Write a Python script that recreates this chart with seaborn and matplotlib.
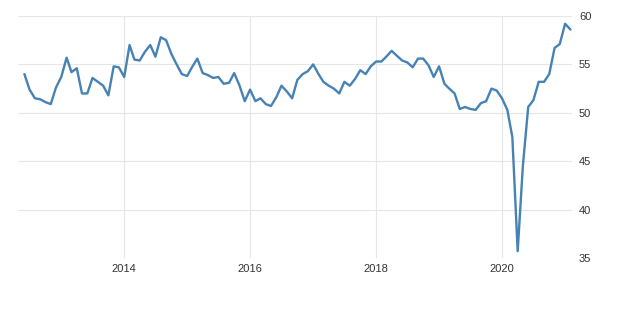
import pandas as pd
import numpy as np
import matplotlib
matplotlib.use("Agg")
import matplotlib.pyplot as plt
import matplotlib.dates as mdates
import seaborn as sns

start_month = "2012-06-01"
values = [
    # 2012 Jun-Dec
    54.0, 52.4, 51.5, 51.4, 51.1, 50.9, 52.6,
    # 2013
    53.7, 55.7, 54.2, 54.6, 52.0, 52.0, 53.6, 53.2, 52.8, 51.8, 54.8, 54.7,
    # 2014
    53.7, 57.0, 55.5, 55.4, 56.3, 57.0, 55.8, 57.8, 57.5, 56.1, 55.0, 54.0,
    # 2015
    53.8, 54.8, 55.6, 54.1, 53.9, 53.6, 53.7, 53.0, 53.1, 54.1, 52.8, 51.2,
    # 2016
    52.4, 51.2, 51.5, 50.9, 50.7, 51.6, 52.8, 52.2, 51.5, 53.4, 54.0, 54.3,
    # 2017
    55.0, 54.0, 53.2, 52.8, 52.5, 52.0, 53.2, 52.8, 53.5, 54.4, 54.0, 54.8,
    # 2018
    55.3, 55.3, 55.8, 56.4, 55.9, 55.4, 55.2, 54.7, 55.6, 55.6, 54.9, 53.7,
    # 2019
    54.8, 53.0, 52.5, 52.0, 50.4, 50.6, 50.4, 50.3, 51.0, 51.2, 52.5, 52.3,
    # 2020
    51.5, 50.3, 47.5, 35.7, 44.5, 50.6, 51.3, 53.2, 53.2, 54.0, 56.7, 57.1,
    # 2021 Jan-Feb
    59.2, 58.6,
]
year_ticks = ["2014", "2016", "2018", "2020"]
y_ticks = [35, 40, 45, 50, 55, 60]

dates = pd.date_range(start_month, periods=len(values), freq="MS")
df = pd.DataFrame({"date": dates, "value": values})

sns.set_theme(style="white")
plt.rcParams["font.family"] = ["Liberation Sans", "DejaVu Sans"]

fig = plt.figure(figsize=(6.2, 3.21), dpi=100)
ax = fig.add_axes([18 / 620, 1 - 258 / 321, 554 / 620, 242 / 321])

sns.lineplot(data=df, x="date", y="value", ax=ax, color="#4682b4",
             linewidth=1.7, zorder=3)

ax.set_xlim(pd.Timestamp("2012-04-25"), pd.Timestamp("2021-02-10"))
ax.set_ylim(35, 60)
ax.set_xticks([pd.Timestamp(f"{y}-01-01") for y in year_ticks])
ax.set_xticklabels(year_ticks)
ax.set_yticks(y_ticks)
ax.yaxis.tick_right()
ax.tick_params(axis="both", length=0, labelsize=8, colors="#333333")
ax.tick_params(axis="y", pad=5)
ax.tick_params(axis="x", pad=4)
ax.grid(True, color="#e6e6e6", linewidth=0.8)
for s in ax.spines.values():
    s.set_visible(False)
ax.set_xlabel("")
ax.set_ylabel("")

fig.savefig("out.png", dpi=100)
